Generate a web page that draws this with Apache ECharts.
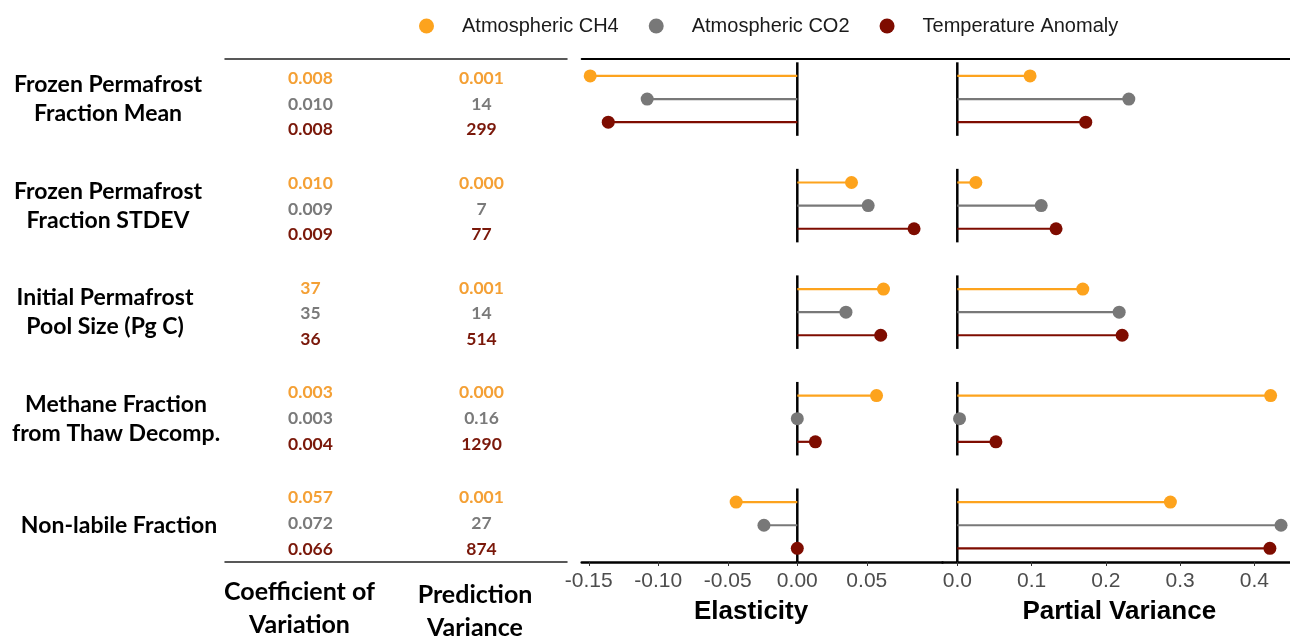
<!DOCTYPE html>
<html>
<head>
<meta charset="utf-8">
<script src="https://cdn.jsdelivr.net/npm/echarts@6/dist/echarts.min.js"></script>
<style>html,body{margin:0;padding:0;background:#fff;}#chart{width:1290px;height:636px;}</style>
</head>
<body>
<div id="chart"></div>
<script>
// ---------------- data ----------------
const rowLabels = ['Frozen Permafrost\nFraction Mean', 'Frozen Permafrost\nFraction STDEV', 'Initial Permafrost\nPool Size (Pg C)', 'Methane Fraction\nfrom Thaw Decomp.', 'Non-labile Fraction'];
const gases = ['Atmospheric CH4', 'Atmospheric CO2', 'Temperature Anomaly'];
const elasticityCH4 = [-0.149, 0.039, 0.062, 0.057, -0.044];
const elasticityCO2 = [-0.108, 0.051, 0.035, 0.000, -0.024];
const elasticityTemp = [-0.136, 0.084, 0.060, 0.013, 0.000];
const partialVarCH4 = [0.098, 0.025, 0.169, 0.422, 0.287];
const partialVarCO2 = [0.231, 0.113, 0.218, 0.003, 0.436];
const partialVarTemp = [0.173, 0.133, 0.222, 0.052, 0.421];
const coefVarCH4 = ['0.008', '0.010', '37', '0.003', '0.057'];
const coefVarCO2 = ['0.010', '0.009', '35', '0.003', '0.072'];
const coefVarTemp = ['0.008', '0.009', '36', '0.004', '0.066'];
const predVarCH4 = ['0.001', '0.000', '0.001', '0.000', '0.001'];
const predVarCO2 = ['14', '7', '14', '0.16', '27'];
const predVarTemp = ['299', '77', '514', '1290', '874'];
const elasticityTicks = [-0.15, -0.10, -0.05, 0.00, 0.05];
const partialVarTicks = [0.0, 0.1, 0.2, 0.3, 0.4];
const tableColumns = ['Coefficient of\nVariation', 'Prediction\nVariance'];

// ---------------- styling / layout ----------------
const dotColors = ['#FDA31D', '#787878', '#7E0C00'];
const textColors = ['#F4A035', '#7A7A7A', '#7A180A'];
const dotOffsets = [-0.217, 0, 0.217];
const numOffsets = [-0.245, 0, 0.245];
const labelX = [108, 108, 105, 116, 119];
const TOP = 59, BOTTOM_Y = 562;
const H = BOTTOM_Y - TOP;
const dotYMin = -0.376, dotYMax = 4.345;
const numYMin = -0.43, numYMax = 4.369;
const E_LEFT = 581.7, SPLIT = 942.5, RIGHT = 1290;
const E_ZERO = 797.3, E_PX = 1390, P_ZERO = 957.3, P_PX = 742.5;

const elastVals = [elasticityCH4, elasticityCO2, elasticityTemp];
const pvVals = [partialVarCH4, partialVarCO2, partialVarTemp];
const cvVals = [coefVarCH4, coefVarCO2, coefVarTemp];
const predVals = [predVarCH4, predVarCO2, predVarTemp];

function lollipop(offset, color) {
  return function (params, api) {
    const v = api.value(0), r = api.value(1);
    const p0 = api.coord([0, r + offset]);
    const p1 = api.coord([v, r + offset]);
    return {
      type: 'group',
      children: [
        { type: 'line', shape: { x1: p0[0], y1: p0[1], x2: p1[0], y2: p1[1] }, style: { stroke: color, lineWidth: 2.2 } },
        { type: 'circle', shape: { cx: p1[0], cy: p1[1], r: 6.5 }, style: { fill: color } }
      ]
    };
  };
}
function zeroLine(params, api) {
  const r = api.value(1);
  const a = api.coord([0, r - 0.345]);
  const b = api.coord([0, r + 0.345]);
  return { type: 'line', shape: { x1: a[0], y1: a[1], x2: b[0], y2: b[1] }, style: { stroke: '#000', lineWidth: 2.5 } };
}

const tickFont = { fontFamily: 'Liberation Sans', fontSize: 21, color: '#4D4D4D' };
const titleFont = { fontFamily: 'Liberation Sans', fontSize: 26, fontWeight: 'bold', color: '#000' };

const series = [];
// row labels
series.push({
  type: 'scatter', xAxisIndex: 0, yAxisIndex: 0, symbolSize: 0, silent: true, clip: false,
  itemStyle: { color: 'transparent', opacity: 1 },
  data: rowLabels.map((l, i) => ({ name: l, value: [labelX[i], i] })),
  label: { show: true, position: 'inside', formatter: '{b}', fontFamily: 'Lato', fontWeight: 'bold', fontSize: 23, lineHeight: 29, color: '#000', opacity: 1, align: 'center', textBorderWidth: 0, textBorderColor: 'transparent' }
});
// table numbers
[cvVals, predVals].forEach((tbl, col) => {
  tbl.forEach((arr, g) => {
    series.push({
      type: 'scatter', xAxisIndex: 1, yAxisIndex: 1, symbolSize: 0, silent: true, clip: false,
      itemStyle: { color: 'transparent', opacity: 1 },
      data: arr.map((t, i) => ({ name: t, value: [col, i + numOffsets[g]] })),
      label: { show: true, position: 'inside', formatter: '{b}', fontFamily: 'Lato', fontWeight: 'bold', fontSize: 17.5, color: textColors[g], opacity: 1, textBorderWidth: 0, textBorderColor: 'transparent' }
    });
  });
});
// zero lines
[2, 3].forEach(ax => {
  series.push({
    type: 'custom', xAxisIndex: ax, yAxisIndex: ax, silent: true, z: 2,
    data: rowLabels.map((l, i) => [0, i]), renderItem: zeroLine
  });
});
// lollipops
[elastVals, pvVals].forEach((vals, k) => {
  vals.forEach((arr, g) => {
    series.push({
      type: 'custom', name: gases[g], xAxisIndex: 2 + k, yAxisIndex: 2 + k, z: 3,
      itemStyle: { color: dotColors[g] },
      encode: { x: 0, y: 1 },
      data: arr.map((v, i) => [v, i]),
      renderItem: lollipop(dotOffsets[g], dotColors[g])
    });
  });
});

const hiddenY = (min, max, gi) => ({ type: 'value', gridIndex: gi, min, max, inverse: true, show: false });
const eMin = (E_LEFT - E_ZERO) / E_PX, eMax = (SPLIT - E_ZERO) / E_PX;
const pMin = (SPLIT - P_ZERO) / P_PX, pMax = (RIGHT - P_ZERO) / P_PX;

const option = {
  animation: false,
  backgroundColor: '#fff',
  legend: {
    data: gases, left: 414, top: 11, icon: 'circle', itemWidth: 15, itemHeight: 15, itemGap: 30,
    textStyle: { fontFamily: 'Liberation Sans', fontSize: 20, color: '#1A1A1A', padding: [0, 0, 0, 23] }
  },
  grid: [
    { left: 0, top: TOP, width: 225, height: H },
    { left: 225, top: TOP, width: 342, height: H },
    { left: E_LEFT, top: TOP, width: SPLIT - E_LEFT, height: H },
    { left: SPLIT, top: TOP, width: RIGHT - SPLIT, height: H }
  ],
  xAxis: [
    { type: 'value', gridIndex: 0, min: 0, max: 225, show: false },
    { type: 'category', gridIndex: 1, data: tableColumns, boundaryGap: true,
      axisLine: { show: true, onZero: false, lineStyle: { color: '#222', width: 1.5 } }, axisTick: { show: false }, axisLabel: { show: false } },
    { type: 'value', gridIndex: 2, min: eMin, max: eMax, splitLine: { show: false },
      axisLine: { show: true, onZero: false, lineStyle: { color: '#000', width: 2.5 } },
      axisTick: { show: true, length: 4, lineStyle: { color: '#333' }, customValues: elasticityTicks },
      axisLabel: { ...tickFont, margin: 9, customValues: elasticityTicks, formatter: v => v.toFixed(2) },
      name: 'Elasticity', nameLocation: 'middle', nameGap: 37, nameTextStyle: { ...titleFont, padding: [0, 22, 0, 0] } },
    { type: 'value', gridIndex: 3, min: pMin, max: pMax, splitLine: { show: false },
      axisLine: { show: true, onZero: false, lineStyle: { color: '#000', width: 2.5 } },
      axisTick: { show: true, length: 4, lineStyle: { color: '#333' }, customValues: partialVarTicks },
      axisLabel: { ...tickFont, margin: 9, customValues: partialVarTicks, formatter: v => v.toFixed(1) },
      name: 'Partial Variance', nameLocation: 'middle', nameGap: 37, nameTextStyle: { ...titleFont, padding: [0, 0, 0, 6] } },
    // top borders
    { type: 'category', gridIndex: 1, position: 'top', data: tableColumns,
      axisLine: { show: true, onZero: false, lineStyle: { color: '#222', width: 1.5 } }, axisTick: { show: false }, axisLabel: { show: false } },
    { type: 'value', gridIndex: 2, position: 'top', min: eMin, max: eMax, splitLine: { show: false },
      axisLine: { show: true, onZero: false, lineStyle: { color: '#000', width: 2 } }, axisTick: { show: false }, axisLabel: { show: false } },
    { type: 'value', gridIndex: 3, position: 'top', min: pMin, max: pMax, splitLine: { show: false },
      axisLine: { show: true, onZero: false, lineStyle: { color: '#000', width: 2 } }, axisTick: { show: false }, axisLabel: { show: false } }
  ],
  yAxis: [
    hiddenY(dotYMin, dotYMax, 0),
    hiddenY(numYMin, numYMax, 1),
    hiddenY(dotYMin, dotYMax, 2),
    hiddenY(dotYMin, dotYMax, 3)
  ],
  graphic: [
    { type: 'text', x: 299.5, y: 575, silent: true,
      style: { text: tableColumns[0], font: 'bold 25px Lato', textAlign: 'center', textVerticalAlign: 'top', lineHeight: 33, fill: '#000' } },
    { type: 'text', x: 475, y: 578, silent: true,
      style: { text: tableColumns[1], font: 'bold 25px Lato', textAlign: 'center', textVerticalAlign: 'top', lineHeight: 33, fill: '#000' } }
  ],
  series
};

const chart = echarts.init(document.getElementById('chart'), null, { renderer: 'canvas' });
chart.setOption(option);
</script>
</body>
</html>
